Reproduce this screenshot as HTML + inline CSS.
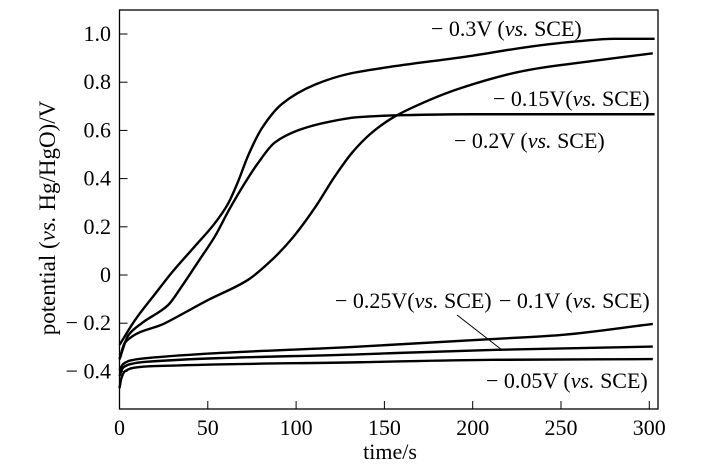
<!DOCTYPE html>
<html><head><meta charset="utf-8"><style>
html,body{margin:0;padding:0;background:#fff;width:715px;height:464px;overflow:hidden}
svg text{font-family:"Liberation Serif",serif;fill:#000}
</style></head><body>
<svg id="chart" width="715" height="464" viewBox="0 0 715 464" xmlns="http://www.w3.org/2000/svg">
<rect x="119.5" y="10" width="538.5" height="399" fill="none" stroke="#000" stroke-width="1.3"/>
<g id="ticks"></g>
<g id="series"></g>
<line x1="457" y1="315" x2="502" y2="350" stroke="#000" stroke-width="1"/>
<g font-size="22">
<text x="431" y="36">− 0.3V (<tspan font-style="italic">vs.</tspan> SCE)</text>
<text x="493" y="106">− 0.15V(<tspan font-style="italic">vs.</tspan> SCE)</text>
<text x="454" y="148">− 0.2V (<tspan font-style="italic">vs.</tspan> SCE)</text>
<text x="335" y="308">− 0.25V(<tspan font-style="italic">vs.</tspan> SCE)</text>
<text x="499" y="308">− 0.1V (<tspan font-style="italic">vs.</tspan> SCE)</text>
<text x="486" y="388">− 0.05V (<tspan font-style="italic">vs.</tspan> SCE)</text>
</g>
<text x="390" y="459" font-size="22" text-anchor="middle">time/s</text>
<text transform="translate(55,218) rotate(-90)" font-size="23" text-anchor="middle">potential (<tspan font-style="italic">vs.</tspan> Hg/HgO)/V</text>
</svg>
<script>
const xTicks=[0,50,100,150,200,250,300];
const yTicks=[1.0,0.8,0.6,0.4,0.2,0,-0.2,-0.4];
const yTickLabels=["1.0","0.8","0.6","0.4","0.2","0","− 0.2","− 0.4"];
const t03=[0,8.8,20,29.6,42.8,54,61.4,67,72.8,80.7,92,110.7,130,150,200,230,260,280,303];
const v03=[-0.29,-0.187,-0.08,0.01,0.12,0.215,0.295,0.385,0.495,0.61,0.71,0.79,0.835,0.86,0.91,0.945,0.97,0.98,0.98];
const t02=[0,5,12.6,27.5,35,45,54,62,70,78,88,101,115,135,160,200,303];
const v02=[-0.35,-0.25,-0.2,-0.125,-0.05,0.06,0.16,0.27,0.37,0.46,0.55,0.6,0.63,0.655,0.663,0.667,0.667];
const t015=[0,3.1,25.8,50.1,72.8,86.2,97.5,110.7,122,132,142,153,164.5,193,231,268,302];
const v015=[-0.35,-0.28,-0.2,-0.104,-0.02,0.062,0.15,0.28,0.41,0.51,0.585,0.645,0.69,0.775,0.85,0.888,0.92];
const t01=[0,2,6,15,136,211,249.5,302];
const v01=[-0.395,-0.37,-0.355,-0.345,-0.297,-0.266,-0.249,-0.203];
const t025=[0,2,6,15,136,211,302];
const v025=[-0.42,-0.385,-0.37,-0.36,-0.329,-0.311,-0.297];
const t005=[0,1,3,8,20,136,211,302];
const v005=[-0.47,-0.43,-0.40,-0.385,-0.378,-0.362,-0.352,-0.349];
const seriesT=[t03,t02,t015,t01,t025,t005];
const seriesV=[v03,v02,v015,v01,v025,v005];
const seriesNames=["series-minus-0.3V","series-minus-0.2V","series-minus-0.15V","series-minus-0.1V","series-minus-0.25V","series-minus-0.05V"];
const NS="http://www.w3.org/2000/svg";
function xs(t){return 119.5+t*(649.3-119.5)/300;}
function ys(v){return 275-v*241;}
const tg=document.getElementById('ticks');
xTicks.forEach(t=>{
 const l=document.createElementNS(NS,'line');
 l.setAttribute('x1',xs(t));l.setAttribute('x2',xs(t));l.setAttribute('y1',409);l.setAttribute('y2',401);
 l.setAttribute('stroke','#000');l.setAttribute('stroke-width','1');
 
 
 tg.appendChild(l);
 const tx=document.createElementNS(NS,'text');
 tx.setAttribute('x',xs(t));tx.setAttribute('y',435);tx.setAttribute('font-size','22');tx.setAttribute('text-anchor','middle');
 tx.textContent=t;
 
 
 tg.appendChild(tx);
});
yTicks.forEach((v,i)=>{
 const l=document.createElementNS(NS,'line');
 l.setAttribute('x1',119.5);l.setAttribute('x2',127.5);l.setAttribute('y1',ys(v));l.setAttribute('y2',ys(v));
 l.setAttribute('stroke','#000');l.setAttribute('stroke-width','1');
 
 
 tg.appendChild(l);
 const tx=document.createElementNS(NS,'text');
 tx.setAttribute('x',111);tx.setAttribute('y',ys(v)+7);tx.setAttribute('font-size','22');tx.setAttribute('text-anchor','end');
 tx.textContent=yTickLabels[i];
 
 
 tg.appendChild(tx);
});
function monoPath(pts){
 const n=pts.length,dx=[],dy=[],m=[],tan=[];
 for(let i=0;i<n-1;i++){dx[i]=pts[i+1][0]-pts[i][0];dy[i]=pts[i+1][1]-pts[i][1];m[i]=dy[i]/dx[i];}
 tan[0]=m[0];tan[n-1]=m[n-2];
 for(let i=1;i<n-1;i++){
  if(m[i-1]*m[i]<=0)tan[i]=0;
  else{const w1=2*dx[i]+dx[i-1],w2=dx[i]+2*dx[i-1];tan[i]=(w1+w2)/(w1/m[i-1]+w2/m[i]);}
 }
 let d='M'+pts[0][0]+','+pts[0][1];
 for(let i=0;i<n-1;i++){
  const h=dx[i]/3;
  d+=' C'+(pts[i][0]+h)+','+(pts[i][1]+tan[i]*h)+' '+(pts[i+1][0]-h)+','+(pts[i+1][1]-tan[i+1]*h)+' '+pts[i+1][0]+','+pts[i+1][1];
 }
 return d;
}
const sg=document.getElementById('series');
seriesT.forEach((ts,k)=>{
 const pts=ts.map((t,i)=>[xs(t),ys(seriesV[k][i])]);
 const p=document.createElementNS(NS,'path');
 p.setAttribute('d',monoPath(pts));
 p.setAttribute('fill','none');p.setAttribute('stroke','#000');p.setAttribute('stroke-width','2.4');
 
 
 sg.appendChild(p);
});
</script>
</body></html>
